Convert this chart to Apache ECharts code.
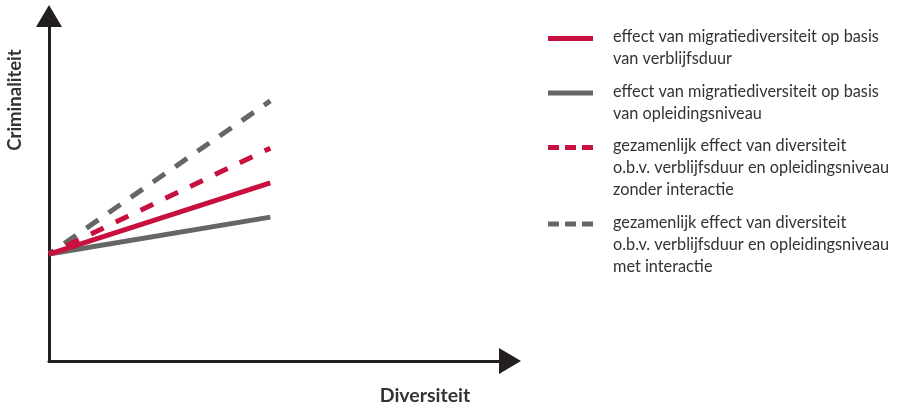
<!DOCTYPE html>
<html>
<head>
<meta charset="utf-8">
<script src="https://cdn.jsdelivr.net/npm/echarts@6/dist/echarts.min.js"></script>
<style>
html,body{margin:0;padding:0;background:#fff;}
#chart{width:899px;height:411px;}
</style>
</head>
<body>
<div id="chart"></div>
<script>
// ---- data ----
var xPoints = [0, 4.8];
var seriesNames = [
  'effect van migratiediversiteit op basis\nvan verblijfsduur',
  'effect van migratiediversiteit op basis\nvan opleidingsniveau',
  'gezamenlijk effect van diversiteit\no.b.v. verblijfsduur en opleidingsniveau\nzonder interactie',
  'gezamenlijk effect van diversiteit\no.b.v. verblijfsduur en opleidingsniveau\nmet interactie'
];
var redSolid = [3.1, 5.16];
var graySolid = [3.1, 4.17];
var redDashed = [3.1, 6.17];
var grayDashed = [3.1, 7.54];
var xAxisName = 'Diversiteit';
var yAxisName = 'Criminaliteit';

var RED = '#c8103e', GRAY = '#666666', AXIS = '#231f20', TXT = '#333333';
var styles = [
  {color: RED, dash: 'solid', off: 0},
  {color: GRAY, dash: 'solid', off: 0},
  {color: RED, dash: [14, 13.5], off: 8.5},
  {color: GRAY, dash: [14.5, 12.5], off: 8.5}
];
var values = [redSolid, graySolid, redDashed, grayDashed];
function pts(v){ return xPoints.map(function(x,i){ return [x, v[i]]; }); }

var drawOrder = [3, 2, 1, 0];
var series = drawOrder.map(function(k, idx){
  return {
    type: 'line', name: seriesNames[k], data: pts(values[k]),
    showSymbol: false, symbol: 'none', silent: true, z: 2 + idx,
    lineStyle: {color: styles[k].color, width: 5, type: styles[k].dash, dashOffset: styles[k].off, cap: 'butt'}
  };
});

// legend drawn as graphic (icon aligned to first text line)
var legendGraphic = [];
var y = 26;
var LH = 22;
seriesNames.forEach(function(name, k){
  var nLines = name.split('\n').length;
  legendGraphic.push({
    type: 'line', shape: {x1: 548, y1: y + 12.5, x2: 593, y2: y + 12.5},
    style: {stroke: styles[k].color, lineWidth: 5, lineDash: styles[k].dash === 'solid' ? null : [11, 6]}
  });
  legendGraphic.push({
    type: 'text', x: 613, y: y,
    style: {text: name, fill: TXT, font: '16.3px Lato', lineHeight: LH, verticalAlign: 'top'}
  });
  y += nLines * LH + 10.5;
});

var chart = echarts.init(document.getElementById('chart'));
chart.setOption({
  backgroundColor: '#fff',
  animation: false,
  grid: {left: 49, right: 389, top: 16, bottom: 50},
  xAxis: {
    type: 'value', min: 0, max: 10,
    axisLine: {show: true, lineStyle: {color: AXIS, width: 3}, symbol: ['none', 'triangle'], symbolSize: [26, 22]},
    axisTick: {show: false}, axisLabel: {show: false}, splitLine: {show: false}
  },
  yAxis: {
    type: 'value', min: 0, max: 10,
    axisLine: {show: true, lineStyle: {color: AXIS, width: 3}, symbol: ['none', 'triangle'], symbolSize: [26, 22]},
    axisTick: {show: false}, axisLabel: {show: false}, splitLine: {show: false}
  },
  series: series,
  graphic: legendGraphic.concat([
    {type: 'text', x: 425, y: 396, style: {text: xAxisName, fill: TXT, font: 'bold 19.5px Lato', align: 'center', verticalAlign: 'middle'}},
    {type: 'text', x: 15, y: 100, rotation: Math.PI / 2, style: {text: yAxisName, fill: TXT, font: 'bold 18.5px Lato', align: 'center', verticalAlign: 'middle'}}
  ])
});
</script>
</body>
</html>
